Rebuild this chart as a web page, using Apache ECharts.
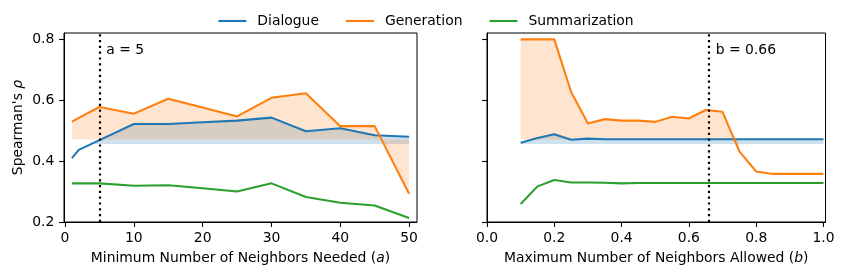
<!DOCTYPE html>
<html>
<head>
<meta charset="utf-8">
<script src="https://cdn.jsdelivr.net/npm/echarts@6/dist/echarts.min.js"></script>
<style>html,body{margin:0;padding:0;background:#fff}#c{width:852px;height:279px}</style>
</head>
<body>
<div id="c"></div>
<script>
// ---- data ----
const leftX = [1, 2, 5, 10, 15, 20, 25, 30, 35, 40, 45, 50];
const leftDialogue = [0.410, 0.437, 0.469, 0.522, 0.522, 0.528, 0.533, 0.543, 0.498, 0.508, 0.485, 0.480];
const leftGeneration = [0.530, 0.542, 0.578, 0.556, 0.605, 0.576, 0.547, 0.608, 0.623, 0.515, 0.515, 0.293];
const leftSummarization = [0.327, 0.327, 0.327, 0.319, 0.321, 0.311, 0.300, 0.327, 0.282, 0.263, 0.254, 0.213];

const rightX = [0.1, 0.15, 0.2, 0.25, 0.3, 0.35, 0.4, 0.45, 0.5, 0.55, 0.6, 0.65, 0.7, 0.75, 0.8, 0.85, 0.9, 0.95, 1.0];
const rightDialogue = [0.460, 0.476, 0.488, 0.470, 0.474, 0.472, 0.472, 0.472, 0.472, 0.472, 0.472, 0.472, 0.472, 0.472, 0.472, 0.472, 0.472, 0.472, 0.472];
const rightGeneration = [0.800, 0.800, 0.800, 0.627, 0.524, 0.538, 0.533, 0.533, 0.529, 0.546, 0.540, 0.568, 0.562, 0.432, 0.366, 0.358, 0.358, 0.358, 0.358];
const rightSummarization = [0.259, 0.317, 0.338, 0.330, 0.330, 0.329, 0.327, 0.328, 0.328, 0.328, 0.328, 0.328, 0.328, 0.328, 0.328, 0.328, 0.328, 0.328, 0.328];

const seriesNames = ['Dialogue', 'Generation', 'Summarization'];
const dialogueBase = 0.456;
const generationBase = 0.471;
const rightGenFillCount = 14; // up to b = 0.75
const aValue = 5;
const bValue = 0.66;
const aLabel = 'a = 5';
const bLabel = 'b = 0.66';
const leftTicks = [0, 10, 20, 30, 40, 50];
const rightTicks = [0.0, 0.2, 0.4, 0.6, 0.8, 1.0];
const yTicks = [0.2, 0.4, 0.6, 0.8];

// ---- helpers ----
const C = ['#1f77b4', '#ff7f0e', '#2ca02c'];
const FONT = 'DejaVu Sans';
const FS = 13.9;

function zip(xs, ys) { return xs.map((x, i) => [x, ys[i]]); }

function fullPoly(xs, ys, base) {
  return [zip(xs, ys).concat([[xs[xs.length - 1], base], [xs[0], base]])];
}
function abovePolys(xs, ys, base) {
  const polys = []; let cur = null;
  for (let i = 0; i < xs.length; i++) {
    const above = ys[i] >= base;
    if (i > 0) {
      const pa = ys[i - 1] >= base;
      if (pa !== above) {
        const t = (base - ys[i - 1]) / (ys[i] - ys[i - 1]);
        const xc = xs[i - 1] + t * (xs[i] - xs[i - 1]);
        if (above) { cur = [[xc, base]]; }
        else { cur.push([xc, base]); polys.push(cur); cur = null; }
      }
    }
    if (above) { if (!cur) cur = [[xs[i], base]]; cur.push([xs[i], ys[i]]); }
  }
  if (cur) { cur.push([xs[xs.length - 1], base]); polys.push(cur); }
  return polys;
}

function fillSeries(polys, color, gi) {
  return {
    type: 'custom', xAxisIndex: gi, yAxisIndex: gi, z: 1, silent: true, clip: true,
    data: polys.map((p, i) => [i]),
    renderItem: function (params, api) {
      const p = polys[api.value(0)];
      return { type: 'polygon', shape: { points: p.map(q => api.coord(q)) }, style: { fill: color } };
    }
  };
}

function lineSeries(name, xs, ys, color, gi) {
  return {
    name: name, type: 'line', xAxisIndex: gi, yAxisIndex: gi, data: zip(xs, ys),
    symbol: 'none', z: 3, lineStyle: { color: color, width: 2.08 }, itemStyle: { color: color },
    emphasis: { disabled: true }
  };
}

function vline(x, label, gi) {
  return {
    type: 'line', xAxisIndex: gi, yAxisIndex: gi, data: [], z: 4,
    markLine: {
      silent: true, symbol: 'none', animation: false,
      label: { show: false },
      lineStyle: { color: '#000', width: 2.2, type: [2.2, 3.6], cap: 'butt' },
      emphasis: { disabled: true },
      data: [{ xAxis: x }]
    },
    markPoint: {
      silent: true, symbol: 'circle', symbolSize: 0, animation: false,
      data: [{ coord: [label.x, 0.765] }],
      label: { show: true, position: [0, 0], align: 'left', verticalAlign: 'middle',
        formatter: label.text, fontFamily: FONT, fontSize: FS, color: '#000' }
    }
  };
}

const axisCommon = {
  axisLine: { show: true, onZero: false, lineStyle: { color: '#000', width: 1 } },
  axisTick: { show: true, length: 4.9, lineStyle: { color: '#000', width: 1.1 } },
  axisLabel: { fontFamily: FONT, fontSize: FS, color: '#000', margin: 9.7 },
  splitLine: { show: false }
};

function xAxisDef(gi, min, max, ticks, fmt, nameParts) {
  return {
    type: 'value', gridIndex: gi, min: min, max: max,
    axisLine: axisCommon.axisLine,
    axisTick: Object.assign({}, axisCommon.axisTick, { customValues: ticks }),
    axisLabel: Object.assign({}, axisCommon.axisLabel, { customValues: ticks, formatter: fmt }),
    splitLine: { show: false },
    name: '{t|' + nameParts[0] + '}{i|' + nameParts[1] + '}{t|' + nameParts[2] + '}',
    nameLocation: 'middle', nameGap: 29.5,
    nameTextStyle: {
      fontFamily: FONT, fontSize: FS, color: '#000',
      rich: { t: { fontFamily: FONT, fontSize: FS, color: '#000' },
              i: { fontFamily: FONT, fontSize: FS, color: '#000', fontStyle: 'italic' } }
    }
  };
}
function yAxisDef(gi, showLabels) {
  const ax = {
    type: 'value', gridIndex: gi, min: 0.2, max: 0.821,
    axisLine: axisCommon.axisLine,
    axisTick: Object.assign({}, axisCommon.axisTick, { customValues: yTicks }),
    axisLabel: Object.assign({}, axisCommon.axisLabel, { show: showLabels, customValues: yTicks, formatter: v => v.toFixed(1) }),
    splitLine: { show: false }
  };
  if (showLabels) {
    ax.name = "{t|Spearman's }{i|ρ}";
    ax.nameLocation = 'middle';
    ax.nameGap = 39;
    ax.nameTextStyle = {
      fontFamily: FONT, fontSize: FS, color: '#000',
      rich: { t: { fontFamily: FONT, fontSize: FS, color: '#000' },
              i: { fontFamily: FONT, fontSize: FS, color: '#000', fontStyle: 'italic' } }
    };
  }
  return ax;
}

const chart = echarts.init(document.getElementById('c'), null, { renderer: 'canvas' });
chart.setOption({
  animation: false,
  backgroundColor: '#fff',
  legend: {
    data: seriesNames, left: 'center', top: 9, icon: 'rect', itemWidth: 28, itemHeight: 2.1,
    itemGap: 27, selectedMode: false,
    textStyle: { fontFamily: FONT, fontSize: FS, color: '#000', padding: [0, 0, 0, 6] }
  },
  grid: [
    { left: 64, top: 33, width: 353, height: 189, show: true, borderColor: '#000', borderWidth: 1, containLabel: false },
    { left: 487, top: 33, width: 338.5, height: 189, show: true, borderColor: '#000', borderWidth: 1, containLabel: false }
  ],
  xAxis: [
    xAxisDef(0, -0.15, 51.15, leftTicks, v => String(Math.round(v)), ['Minimum Number of Neighbors Needed (', 'a', ')']),
    xAxisDef(1, 0, 1.006, rightTicks, v => v.toFixed(1), ['Maximum Number of Neighbors Allowed (', 'b', ')'])
  ],
  yAxis: [yAxisDef(0, true), yAxisDef(1, false)],
  series: [
    fillSeries(abovePolys(leftX, leftDialogue, dialogueBase), 'rgba(31,119,180,0.22)', 0),
    fillSeries(fullPoly(leftX, leftGeneration, generationBase), 'rgba(255,127,14,0.2)', 0),
    fillSeries(abovePolys(rightX, rightDialogue, dialogueBase), 'rgba(31,119,180,0.22)', 1),
    fillSeries(fullPoly(rightX.slice(0, rightGenFillCount), rightGeneration.slice(0, rightGenFillCount), generationBase), 'rgba(255,127,14,0.2)', 1),
    lineSeries(seriesNames[0], leftX, leftDialogue, C[0], 0),
    lineSeries(seriesNames[1], leftX, leftGeneration, C[1], 0),
    lineSeries(seriesNames[2], leftX, leftSummarization, C[2], 0),
    lineSeries(seriesNames[0], rightX, rightDialogue, C[0], 1),
    lineSeries(seriesNames[1], rightX, rightGeneration, C[1], 1),
    lineSeries(seriesNames[2], rightX, rightSummarization, C[2], 1),
    vline(aValue, { x: aValue + 1, text: aLabel }, 0),
    vline(bValue, { x: bValue + 0.02, text: bLabel }, 1)
  ]
});
</script>
</body>
</html>
